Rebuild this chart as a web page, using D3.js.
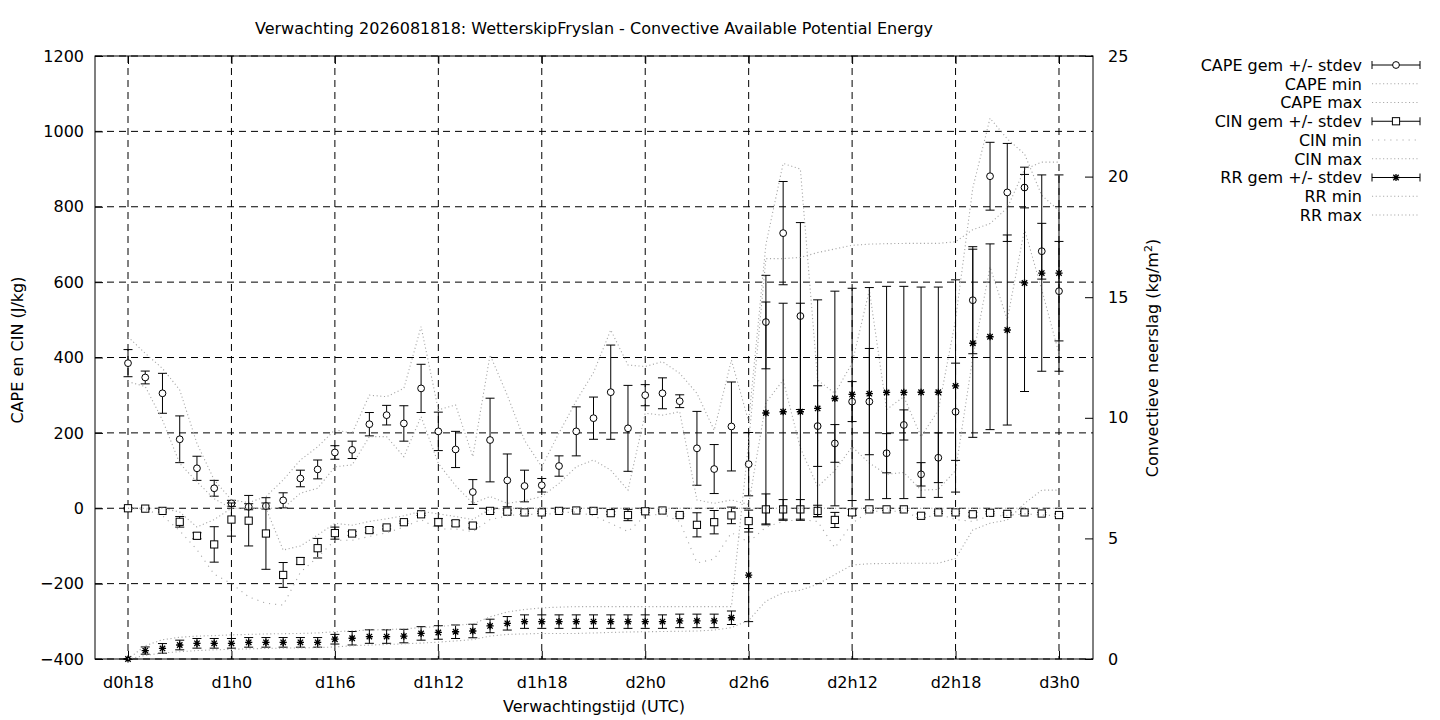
<!DOCTYPE html>
<html><head><meta charset="utf-8">
<script src="https://cdn.jsdelivr.net/npm/d3@7"></script>
<style>body{margin:0;background:#fff}svg{display:block;font-family:"DejaVu Sans",sans-serif}</style>
</head><body><svg id="c" width="1440" height="720"></svg>
<script>
// forecast hours (18 = d0h18 ... 72 = d3h0)
const hours = [18,19,20,21,22,23,24,25,26,27,28,29,30,31,32,33,34,35,36,37,38,39,40,41,42,43,44,45,46,47,48,49,50,51,52,53,54,55,56,57,58,59,60,61,62,63,64,65,66,67,68,69,70,71,72];
const tickHours = [18,24,30,36,42,48,54,60,66,72];
const tickLabels = ["d0h18","d1h0","d1h6","d1h12","d1h18","d2h0","d2h6","d2h12","d2h18","d3h0"];
const leftTicks = [-400,-200,0,200,400,600,800,1000,1200];
const rightTicks = [0,5,10,15,20,25];

const capeMean = [385,347,305,183,106,53,13,4,6,21,79,103,148,155,223,247,225,318,204,156,43,181,74,59,61,112,204,239,308,212,300,305,284,159,104,217,117,494,730,510,218,172,283,283,146,221,90,134,256,552,881,838,851,682,576];
const capeSd   = [36,17,53,62,32,21,8,8,8,20,22,25,18,23,31,26,47,64,51,48,33,111,70,42,18,27,65,56,125,114,28,41,17,98,65,118,84,124,137,248,107,50,53,141,52,40,31,66,129,142,90,130,54,74,132];
const capeMin  = [336,323,234,119,70,25,0,0,0,0,40,53,110,115,190,190,137,243,119,60,13,31,13,20,31,66,110,128,101,48,252,247,256,22,13,22,10,280,340,160,57,100,163,120,90,95,48,50,100,400,640,500,740,580,410];
const capeMax  = [455,411,371,314,172,75,22,15,31,75,128,163,208,199,300,296,318,482,261,274,137,407,300,180,110,200,285,360,473,380,376,389,358,305,207,393,230,700,915,900,340,305,385,579,262,296,190,260,500,850,1035,980,940,830,790];

const cinMean = [0,-1,-7,-36,-73,-96,-30,-33,-67,-177,-140,-106,-66,-67,-58,-51,-37,-16,-37,-40,-46,-7,-9,-11,-11,-7,-6,-7,-13,-18,-8,-6,-18,-44,-37,-19,-34,-3,-3,-3,-7,-31,-11,-3,-3,-3,-20,-11,-11,-16,-12,-15,-11,-14,-18];
const cinSd   = [2,2,3,14,8,47,44,67,95,33,9,26,16,5,7,4,3,3,10,7,6,4,4,3,3,3,2,3,4,15,3,2,3,32,31,22,29,41,26,26,15,20,8,3,3,3,5,3,3,5,3,3,3,3,3];
const cinMin  = [0,-3,-20,-60,-110,-175,-200,-235,-252,-257,-170,-130,-85,-85,-75,-65,-50,-30,-55,-55,-62,-30,-20,-15,-18,-12,-10,-20,-40,-62,-20,-15,-35,-145,-135,-65,-90,-50,-35,-30,-35,-105,-40,-8,-8,-8,-28,-15,-30,-35,-20,-20,-15,-18,-20];
const cinMax  = [0,0,0,-10,-50,-30,0,0,0,-111,-100,-71,-40,-45,-35,-28,-20,-8,-15,-22,-30,-2,0,0,0,0,0,0,0,0,0,0,0,0,0,0,0,0,0,0,0,0,0,0,0,0,0,0,0,0,0,0,0,0,0];

const rrMean = [0,0.35,0.44,0.58,0.65,0.65,0.65,0.69,0.69,0.69,0.69,0.69,0.82,0.86,0.93,0.93,0.95,1.06,1.1,1.13,1.16,1.37,1.48,1.55,1.55,1.55,1.55,1.55,1.55,1.55,1.55,1.55,1.58,1.58,1.58,1.71,3.48,10.2,10.25,10.25,10.39,10.8,10.97,11.0,11.05,11.05,11.06,11.06,11.32,13.09,13.36,13.64,15.59,16.0,16.0];
const rrSd   = [0,0.15,0.2,0.2,0.2,0.2,0.2,0.2,0.2,0.2,0.2,0.2,0.2,0.28,0.28,0.28,0.28,0.28,0.28,0.28,0.28,0.28,0.28,0.28,0.28,0.28,0.28,0.28,0.28,0.28,0.28,0.28,0.28,0.28,0.28,0.28,1.93,4.6,4.5,4.5,4.5,4.45,4.4,4.4,4.4,4.4,4.36,4.36,4.4,3.9,3.85,3.94,4.5,4.07,4.07];
const rrMin  = [0,0.15,0.25,0.3,0.35,0.38,0.4,0.42,0.44,0.45,0.46,0.47,0.5,0.55,0.58,0.6,0.63,0.66,0.7,0.75,0.8,0.95,1.02,1.04,1.06,1.06,1.06,1.08,1.1,1.12,1.13,1.14,1.15,1.16,1.2,1.3,1.6,2.4,2.75,2.85,3.1,3.5,3.9,3.95,3.96,3.97,3.97,3.97,4.17,5.35,5.63,5.76,6.45,7.0,7.0];
const rrMax  = [0,0.55,0.8,0.9,0.95,0.97,1.0,1.02,1.04,1.05,1.06,1.08,1.13,1.17,1.2,1.22,1.25,1.3,1.35,1.4,1.45,1.75,1.95,2.05,2.12,2.15,2.17,2.17,2.17,2.17,2.17,2.17,2.17,2.17,2.17,2.17,9.0,16.6,16.6,16.65,16.85,17.0,17.15,17.2,17.22,17.23,17.23,17.23,17.3,17.8,18.05,18.7,20.3,20.6,20.6];

const legendNames = ["CAPE gem +/- stdev","CAPE min","CAPE max","CIN gem +/- stdev","CIN min","CIN max","RR gem +/- stdev","RR min","RR max"];

const svg = d3.select("#c");
const FS = 16;
const L = 95, R = 1093, T = 56, B = 659;
const x = d3.scaleLinear().domain([18 - 33/17.2407, 72 + 34/17.2407]).range([L, R]);
const yL = d3.scaleLinear().domain([-400, 1200]).range([B, T]);
const yR = d3.scaleLinear().domain([0, 25]).range([B, T]);

const DOT = "#a6a6a6";
const dash = "7,5";

// grid
const grid = svg.append("g");
grid.selectAll("line.v").data(tickHours).join("line")
  .attr("x1", d => x(d)).attr("x2", d => x(d)).attr("y1", T).attr("y2", B)
  .attr("stroke", "#000").attr("stroke-width", 1).attr("stroke-dasharray", dash);
grid.selectAll("line.h").data(leftTicks).join("line")
  .attr("x1", L).attr("x2", R).attr("y1", d => yL(d)).attr("y2", d => yL(d))
  .attr("stroke", "#000").attr("stroke-width", 1).attr("stroke-dasharray", dash);

// axes
function styleAxis(g) {
  g.select(".domain").remove();
  g.selectAll("text").attr("font-size", FS).attr("font-family", "DejaVu Sans").attr("fill", "#000");
  g.selectAll("line").attr("stroke", "#000");
}
svg.append("g").attr("transform", `translate(${L},0)`)
  .call(d3.axisLeft(yL).tickValues(leftTicks).tickFormat(d3.format("d")).tickSizeInner(-8).tickSizeOuter(0).tickPadding(11))
  .call(styleAxis);
svg.append("g").attr("transform", `translate(${R},0)`)
  .call(d3.axisRight(yR).tickValues(rightTicks).tickFormat(d3.format("d")).tickSizeInner(-8).tickSizeOuter(0).tickPadding(15))
  .call(styleAxis);
svg.append("g").attr("transform", `translate(0,${B})`)
  .call(d3.axisBottom(x).tickValues(tickHours).tickFormat((d, i) => tickLabels[i]).tickSizeInner(-8).tickSizeOuter(0).tickPadding(18))
  .call(styleAxis);
svg.append("g").attr("transform", `translate(0,${T})`)
  .call(d3.axisTop(x).tickValues(tickHours).tickFormat("").tickSizeInner(-8).tickSizeOuter(0))
  .call(styleAxis);

// border
svg.append("rect").attr("x", L).attr("y", T).attr("width", R - L).attr("height", B - T)
  .attr("fill", "none").attr("stroke", "#000").attr("stroke-width", 1);

const plot = svg.append("g");

function dotted(vals, ys, da) {
  const line = d3.line().x((d, i) => x(hours[i])).y(d => ys(d));
  plot.append("path").attr("d", line(vals)).attr("fill", "none")
    .attr("stroke", DOT).attr("stroke-width", 1.1).attr("stroke-dasharray", da);
}

function marker(g, type, cx, cy) {
  if (type === "circle") {
    g.append("circle").attr("cx", cx).attr("cy", cy).attr("r", 3.4)
      .attr("fill", "#fff").attr("stroke", "#000").attr("stroke-width", 1);
  } else if (type === "square") {
    g.append("rect").attr("x", cx - 3.6).attr("y", cy - 3.6).attr("width", 7.2).attr("height", 7.2)
      .attr("fill", "#fff").attr("stroke", "#000").attr("stroke-width", 1);
  } else {
    const s = 3.6;
    const p = `M${cx - s},${cy}L${cx + s},${cy}M${cx},${cy - s}L${cx},${cy + s}M${cx - s * 0.75},${cy - s * 0.75}L${cx + s * 0.75},${cy + s * 0.75}M${cx - s * 0.75},${cy + s * 0.75}L${cx + s * 0.75},${cy - s * 0.75}`;
    g.append("path").attr("d", p).attr("stroke", "#000").attr("stroke-width", 1.3).attr("fill", "none");
  }
}

function errbars(mean, sd, ys, type) {
  const g = plot.append("g");
  mean.forEach((m, i) => {
    const cx = x(hours[i]);
    const lo = ys(m - sd[i]), hi = ys(m + sd[i]);
    g.append("path").attr("d", `M${cx},${lo}L${cx},${hi}M${cx - 4.5},${lo}L${cx + 4.5},${lo}M${cx - 4.5},${hi}L${cx + 4.5},${hi}`)
      .attr("stroke", "#000").attr("stroke-width", 1).attr("fill", "none");
  });
  mean.forEach((m, i) => marker(g, type, x(hours[i]), ys(m)));
}

errbars(capeMean, capeSd, yL, "circle");
dotted(capeMin, yL, "1.1,2.6");
dotted(capeMax, yL, "1.1,2.6");
errbars(cinMean, cinSd, yL, "square");
dotted(cinMin, yL, "1.1,5");
dotted(cinMax, yL, "1.1,2.6");
errbars(rrMean, rrSd, yR, "star");
dotted(rrMin, yR, "1.1,2.6");
dotted(rrMax, yR, "1.1,2.6");

// legend
const legTypes = ["circle", "dot", "dot", "square", "sparse", "dot", "star", "dot", "dot"];
const lg = svg.append("g");
const LX0 = 1372, LX1 = 1420, LTX = 1362;
legendNames.forEach((name, i) => {
  const cy = 65 + i * 18.75;
  lg.append("text").attr("x", LTX).attr("y", cy).attr("dy", "0.36em").attr("text-anchor", "end")
    .attr("font-size", FS).text(name);
  const t = legTypes[i];
  if (t === "dot" || t === "sparse") {
    lg.append("line").attr("x1", LX0).attr("x2", LX1).attr("y1", cy).attr("y2", cy)
      .attr("stroke", DOT).attr("stroke-width", 1.1).attr("stroke-dasharray", t === "dot" ? "1.1,2.6" : "1.1,5");
  } else {
    lg.append("path").attr("d", `M${LX0},${cy}L${LX1},${cy}M${LX0},${cy - 4}L${LX0},${cy + 4}M${LX1},${cy - 4}L${LX1},${cy + 4}`)
      .attr("stroke", "#000").attr("stroke-width", 1).attr("fill", "none");
    marker(lg, t, (LX0 + LX1) / 2, cy);
  }
});

// titles
svg.append("text").attr("x", 594).attr("y", 34).attr("text-anchor", "middle").attr("font-size", FS)
  .text("Verwachting 2026081818: WetterskipFryslan - Convective Available Potential Energy");
svg.append("text").attr("x", 594).attr("y", 712).attr("text-anchor", "middle").attr("font-size", FS)
  .text("Verwachtingstijd (UTC)");
svg.append("text").attr("transform", "translate(23,350) rotate(-90)").attr("text-anchor", "middle").attr("font-size", FS)
  .text("CAPE en CIN (J/kg)");
const rl = svg.append("text").attr("transform", "translate(1158,358) rotate(-90)").attr("text-anchor", "middle").attr("font-size", FS);
rl.append("tspan").text("Convectieve neerslag (kg/m");
rl.append("tspan").attr("dy", -6).attr("font-size", 11).text("2");
rl.append("tspan").attr("dy", 6).text(")");
</script></body></html>
